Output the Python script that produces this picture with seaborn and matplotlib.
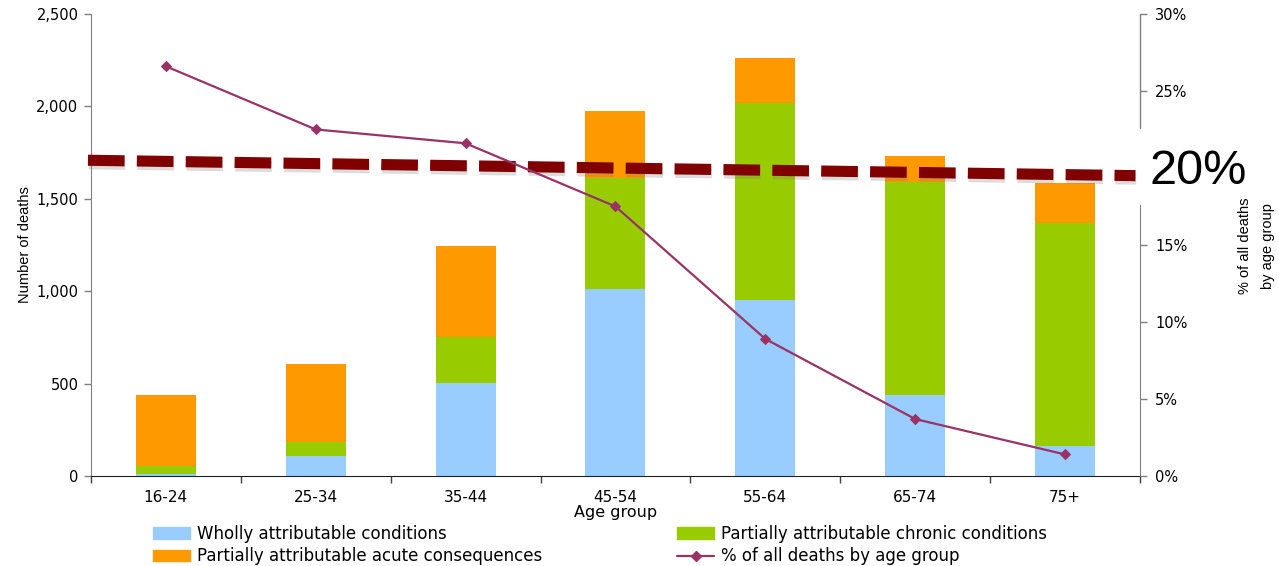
import numpy as np
import pandas as pd
import matplotlib
matplotlib.use("Agg")
import matplotlib.pyplot as plt
import matplotlib.patheffects as pe
from matplotlib import font_manager
from matplotlib.lines import Line2D
from matplotlib.patches import Patch
import seaborn as sns

# ---- data ----
age_groups = ["16-24", "25-34", "35-44", "45-54", "55-64", "65-74", "75+"]
wholly = [12, 108, 503, 1012, 952, 438, 162]
partial_chronic = [43, 78, 249, 601, 1066, 1154, 1207]
partial_acute = [383, 420, 493, 362, 244, 140, 218]
pct_all_deaths = [26.6, 22.5, 21.6, 17.5, 8.9, 3.7, 1.4]
threshold_pct = 20

left_ticks = [0, 500, 1000, 1500, 2000, 2500]
right_ticks = [0, 5, 10, 15, 25, 30]

# ---- style ----
sns.set_style("white")
plt.rcParams["font.family"] = ["DejaVu Sans"]
plt.rcParams["text.color"] = "black"
plt.rcParams["axes.labelcolor"] = "black"
plt.rcParams["xtick.color"] = "black"
plt.rcParams["ytick.color"] = "black"
names = {f.name for f in font_manager.fontManager.ttflist}
narrow = "Liberation Sans Narrow" if "Liberation Sans Narrow" in names else "Liberation Sans"

c_blue = "#99CCFF"
c_green = "#99CC00"
c_orange = "#FF9900"
c_line = "#993366"
c_dash = "#800000"

df = pd.DataFrame({
    "pos": np.arange(len(age_groups)),
    "age": age_groups,
    "wholly": wholly,
    "chronic": partial_chronic,
    "acute": partial_acute,
    "pct": pct_all_deaths,
})
df["lvl1"] = df["wholly"]
df["lvl2"] = df["wholly"] + df["chronic"]
df["lvl3"] = df["lvl2"] + df["acute"]

fig = plt.figure(figsize=(12.79, 5.66), dpi=100)
ax = fig.add_axes([0.0711, 0.159, 0.8202, 0.8164])

# stacked bars drawn as cumulative layers, tallest first
for col, colr in [("lvl3", c_orange), ("lvl2", c_green), ("lvl1", c_blue)]:
    sns.barplot(data=df, x="age", y=col, order=age_groups, color=colr,
                width=0.4, saturation=1, ax=ax, linewidth=0, zorder=2)

ax.set_xlim(-0.5, 6.5)
ax.set_ylim(0, 2500)
ax.set_yticks(left_ticks)
ax.set_yticklabels([f"{v:,}" for v in left_ticks], fontsize=10.5)
ax.set_xticks(np.arange(-0.5, 6.6, 1.0))
ax.set_xticklabels([])
ax.set_xticks(np.arange(len(age_groups)), minor=True)
ax.set_xticklabels(age_groups, minor=True, fontsize=11)
ax.tick_params(axis="x", which="major", direction="out", length=5, width=1,
               color="#404040", bottom=True)
ax.tick_params(axis="x", which="minor", length=0, pad=10)
ax.tick_params(axis="y", direction="out", length=5, width=1, color="#808080",
               left=True, pad=4)
ax.set_xlabel("Age group", fontsize=11.5, labelpad=0)
ax.set_ylabel("Number of deaths", fontsize=10.5, family=narrow)
ax.yaxis.set_label_coords(-0.056, 0.50)
for s in ["top", "right"]:
    ax.spines[s].set_visible(False)
ax.spines["left"].set_color("#808080")
ax.spines["bottom"].set_color("#202020")

# percentage axis
ax2 = ax.twinx()
ax2.set_ylim(0, 30)
ax2.set_yticks(right_ticks)
ax2.set_yticklabels([f"{v}%" for v in right_ticks], fontsize=10.5)
ax2.tick_params(axis="y", direction="out", length=5, width=1, color="#808080",
                right=True, pad=6)
for s in ["top", "left", "bottom"]:
    ax2.spines[s].set_visible(False)
ax2.spines["right"].set_color("#808080")
ax2.spines["right"].set_bounds(0, 17.6)
ax2.add_line(Line2D([1, 1], [22.6, 30], transform=ax2.get_yaxis_transform(),
                    color="#808080", lw=1, clip_on=False))

# 20% reference line with soft shadow
ax2.plot([-0.52, 6.47], [threshold_pct + 0.5, threshold_pct - 0.5],
         color=c_dash, lw=8, dashes=(3.3, 1.1), solid_capstyle="butt",
         dash_capstyle="butt", clip_on=False, zorder=3,
         path_effects=[pe.SimpleLineShadow(offset=(0.5, -2.5), shadow_color="#777777", alpha=0.25),
                       pe.Normal()])

sns.lineplot(data=df, x="pos", y="pct", ax=ax2, color=c_line, lw=1.6,
             marker="D", markersize=5, markeredgecolor=c_line, zorder=4)
ax2.set_xlim(-0.5, 6.5)
ax2.set_xlabel("")
ax2.set_ylabel("")

ax2.text(1.009, threshold_pct - 0.2, f"{threshold_pct}%", transform=ax2.get_yaxis_transform(),
         fontsize=35, va="center", ha="left", color="black", family="Liberation Sans")

fig.text(0.9825, 0.565, "% of all deaths\nby age group", rotation=90, ha="center",
         va="center", fontsize=10.5, family=narrow, linespacing=1.8)

legend_kw = dict(loc="center left", frameon=False, fontsize=12, handlelength=2.2,
                 handleheight=0.7, handletextpad=0.45, labelspacing=0.28, borderpad=0)
left_handles = [Patch(color=c_blue, label="Wholly attributable conditions"),
                Patch(color=c_orange, label="Partially attributable acute consequences")]
right_handles = [Patch(color=c_green, label="Partially attributable chronic conditions"),
                 Line2D([], [], color=c_line, lw=1.6, marker="D", markersize=5,
                        label="% of all deaths by age group")]
fig.legend(handles=left_handles, bbox_to_anchor=(0.113, 0.0371), **legend_kw)
fig.legend(handles=right_handles, bbox_to_anchor=(0.523, 0.0371), **legend_kw)

fig.savefig("out.png", dpi=100)
